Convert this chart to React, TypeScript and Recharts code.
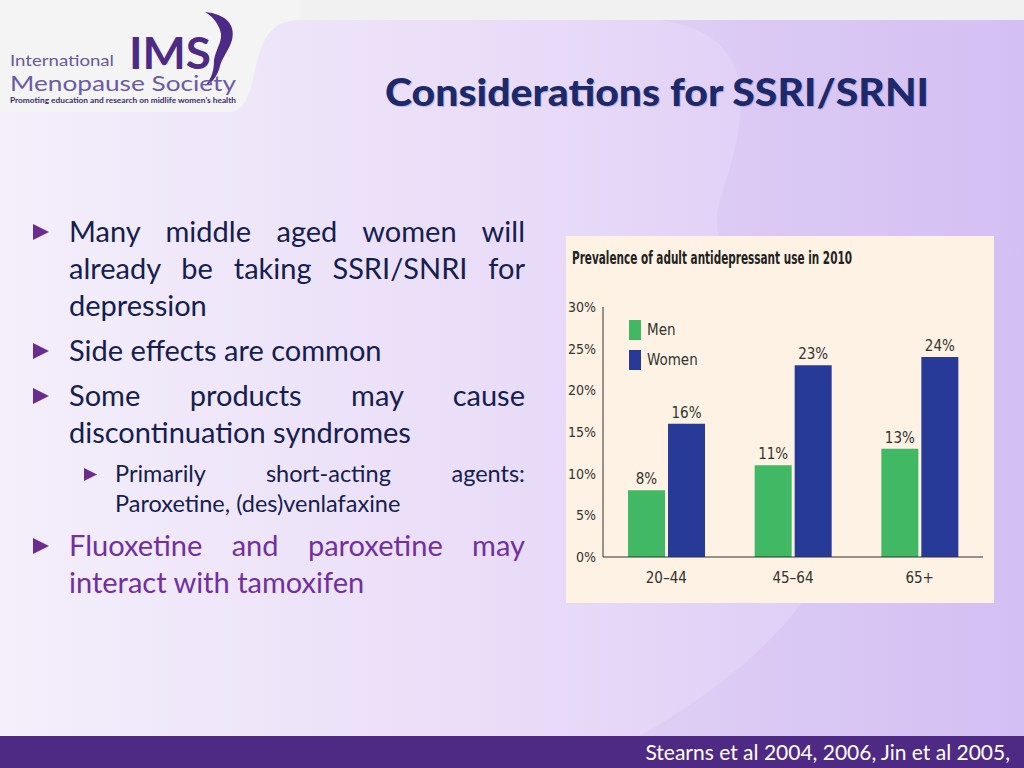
import { Bar, BarChart, LabelList, Legend, XAxis, YAxis } from "recharts";

// Prevalence of adult antidepressant use in 2010, by age group (%)
const ageGroups: string[] = ["20–44", "45–64", "65+"];
const menValues: number[] = [8, 11, 13];
const womenValues: number[] = [16, 23, 24];
const yTicks: number[] = [0, 5, 10, 15, 20, 25, 30];

const chartData = ageGroups.map((group, i) => ({
  group,
  men: menValues[i],
  women: womenValues[i],
}));

const GREEN = "#41b864";
const BLUE = "#283a97";
const NARROW = "'Liberation Sans Narrow', 'DejaVu Sans Condensed', Arial, sans-serif";
const BODY = "Lato, 'Open Sans', sans-serif";

const bullets: Array<{ text: string; level: number; color: string }> = [
  { text: "Many middle aged women will already be taking SSRI/SNRI for depression", level: 0, color: "#14204f" },
  { text: "Side effects are common", level: 0, color: "#14204f" },
  { text: "Some products may cause discontinuation syndromes", level: 0, color: "#14204f" },
  { text: "Primarily short-acting agents: Paroxetine, (des)venlafaxine", level: 1, color: "#14204f" },
  { text: "Fluoxetine and paroxetine may interact with tamoxifen", level: 0, color: "#7030a0" },
];

function ChartLegend() {
  const items = [
    { label: "Men", color: GREEN },
    { label: "Women", color: BLUE },
  ];
  return (
    <div>
      {items.map((it) => (
        <div key={it.label} style={{ display: "flex", alignItems: "center", height: 30 }}>
          <span style={{ width: 12, height: 20, background: it.color, display: "inline-block", marginRight: 6 }} />
          <span style={{ fontFamily: NARROW, fontSize: 15, color: "#333" }}>{it.label}</span>
        </div>
      ))}
    </div>
  );
}

function Triangle({ size, left, top }: { size: number; left: number; top: number }) {
  return (
    <svg width={size} height={size} style={{ position: "absolute", left, top }}>
      <polygon points={`0,0 ${size},${size / 2} 0,${size}`} fill="#6a2c8e" />
    </svg>
  );
}

export default function App() {
  return (
    <div
      style={{
        position: "absolute",
        left: 0,
        top: 0,
        width: 1024,
        height: 768,
        overflow: "hidden",
        background: "linear-gradient(90deg, #f4effb 0%, #e9dcf8 50%, #d9c4f6 100%)",
      }}
    >
      {/* decorative background shapes */}
      <svg width={1024} height={768} style={{ position: "absolute", left: 0, top: 0 }}>
        <path d="M560 20 C 760 0, 760 80, 720 200 C 690 300, 900 420, 830 560 C 780 650, 700 700, 640 736 L 1024 736 L 1024 20 Z" fill="#b99be0" opacity={0.12} />
        <rect x={0} y={0} width={1024} height={20} fill="#f1f1f1" />
        <path d="M0 0 L 300 0 L 300 20 C 270 20, 262 40, 255 70 C 250 95, 245 110, 230 112 L 0 112 Z" fill="#f4f4f4" />
      </svg>

      {/* logo */}
      <svg width={260} height={115} style={{ position: "absolute", left: 0, top: 0 }}>
        <text x={10} y={66} fontFamily={BODY} fontSize={15} fill="#6a5a9c" textLength={104} lengthAdjust="spacingAndGlyphs">International</text>
        <text x={129} y={69} fontFamily={BODY} fontWeight={700} fontSize={44} fill="#4d2a86" textLength={82} lengthAdjust="spacingAndGlyphs">IMS</text>
        <path d="M205 12 C 225 14, 236 24, 232 40 C 229 50, 222 58, 220 66 C 218 74, 214 82, 205 86 C 212 78, 214 70, 214 60 C 216 48, 224 40, 220 30 C 217 22, 212 16, 205 12 Z" fill="#4d2a86" />
        <text x={10} y={91} fontFamily={BODY} fontSize={21} fill="#6a5aa8" textLength={226} lengthAdjust="spacingAndGlyphs">Menopause Society</text>
        <text x={10} y={103} fontFamily={BODY} fontWeight={700} fontSize={7.5} fill="#3b2b6e" textLength={226} lengthAdjust="spacingAndGlyphs">Promoting education and research on midlife women's health</text>
      </svg>

      {/* slide title */}
      <svg width={560} height={60} style={{ position: "absolute", left: 380, top: 65 }}>
        <text x={6} y={42} fontFamily={BODY} fontWeight={900} fontSize={38} fill="#9d8cc0" opacity={0.5} textLength={544} lengthAdjust="spacingAndGlyphs">Considerations for SSRI/SRNI</text>
        <text x={5} y={41} fontFamily={BODY} fontWeight={900} fontSize={38} fill="#1c2a6b" textLength={544} lengthAdjust="spacingAndGlyphs">Considerations for SSRI/SRNI</text>
      </svg>

      {/* bullets */}
      <div style={{ position: "absolute", left: 0, top: 212 }}>
        {bullets.map((b, i) => {
          const indent = b.level === 0 ? 69 : 115;
          const fs = b.level === 0 ? 29 : 23.5;
          const lh = b.level === 0 ? 37 : 30;
          return (
            <div key={i} style={{ position: "relative", marginBottom: 8 }}>
              <Triangle size={b.level === 0 ? 16 : 13} left={b.level === 0 ? 33 : 84} top={b.level === 0 ? 12 : 10} />
              <div
                style={{
                  marginLeft: indent,
                  width: 525 - indent,
                  fontFamily: BODY,
                  fontSize: fs,
                  lineHeight: `${lh}px`,
                  color: b.color,
                  textAlign: "justify",
                }}
              >
                {b.text}
              </div>
            </div>
          );
        })}
      </div>

      {/* chart panel */}
      <div style={{ position: "absolute", left: 566, top: 236, width: 428, height: 367, background: "#fdf2e3" }}>
        <svg width={428} height={40} style={{ position: "absolute", left: 0, top: 0 }}>
          <text x={6} y={28} fontFamily={NARROW} fontWeight={700} fontSize={17} fill="#222" textLength={280} lengthAdjust="spacingAndGlyphs">
            Prevalence of adult antidepressant use in 2010
          </text>
        </svg>
        <BarChart
          width={428}
          height={367}
          data={chartData}
          margin={{ top: 71, right: 11, left: 0, bottom: 16 }}
          barCategoryGap={25}
          barGap={3}
        >
          <XAxis
            dataKey="group"
            height={30}
            tickLine={false}
            axisLine={{ stroke: "#333" }}
            tickMargin={9}
            tick={{ fontFamily: NARROW, fontSize: 15, fill: "#333" }}
          />
          <YAxis
            width={37}
            domain={[0, 30]}
            ticks={yTicks}
            tickSize={0}
            tickMargin={7}
            axisLine={{ stroke: "#333" }}
            tickFormatter={(v: number) => `${v}%`}
            tick={{ fontFamily: NARROW, fontSize: 14, fill: "#333" }}
          />
          <Legend
            layout="horizontal"
            verticalAlign="middle"
            align="center"
            content={() => <ChartLegend />}
            wrapperStyle={{ left: 63, top: 79, width: 120, height: 60 }}
          />
          <Bar dataKey="men" name="Men" fill={GREEN} isAnimationActive={false}>
            <LabelList dataKey="men" position="top" offset={6} formatter={(v: number) => `${v}%`} style={{ fontFamily: NARROW, fontSize: 15, fill: "#333" }} />
          </Bar>
          <Bar dataKey="women" name="Women" fill={BLUE} isAnimationActive={false}>
            <LabelList dataKey="women" position="top" offset={6} formatter={(v: number) => `${v}%`} style={{ fontFamily: NARROW, fontSize: 15, fill: "#333" }} />
          </Bar>
        </BarChart>
      </div>

      {/* footer */}
      <div
        style={{
          position: "absolute",
          left: 0,
          top: 736,
          width: 1024,
          height: 32,
          background: "#4f2a84",
        }}
      >
        <div
          style={{
            position: "absolute",
            right: 14,
            top: 3,
            fontFamily: BODY,
            fontSize: 21,
            color: "#ffffff",
            whiteSpace: "nowrap",
          }}
        >
          Stearns et al 2004, 2006, Jin et al 2005,
        </div>
      </div>
    </div>
  );
}
